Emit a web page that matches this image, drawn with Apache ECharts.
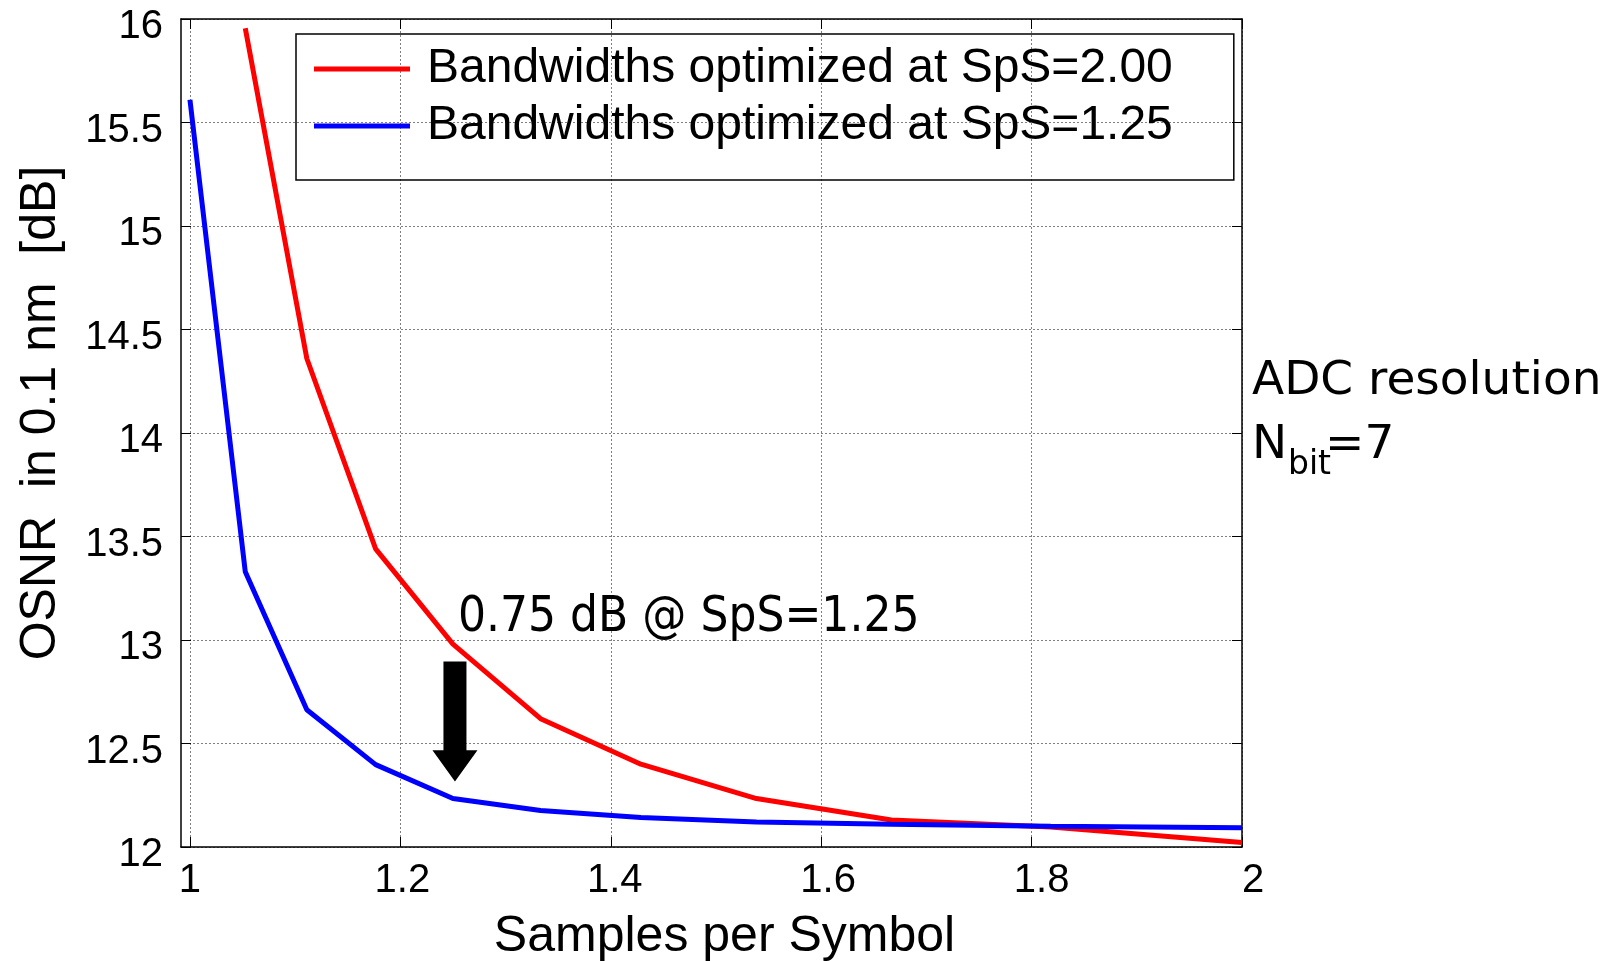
<!DOCTYPE html>
<html><head><meta charset="utf-8">
<script src="https://cdn.jsdelivr.net/npm/echarts@6/dist/echarts.min.js"></script>
<style>html,body{margin:0;padding:0;background:#fff}#c{width:1616px;height:961px}</style>
</head><body><div id="c"></div>
<script>
// Samples per symbol (x values)
const sps = [1.0000, 1.0526, 1.1111, 1.1765, 1.2500, 1.3333, 1.4286, 1.5385, 1.6667, 1.8182, 2.0000];
// OSNR [dB] — bandwidths optimized at SpS=2.00 (red)
const osnrOpt200 = [null, 15.955, 14.36, 13.44, 12.98, 12.62, 12.40, 12.234, 12.13, 12.097, 12.022];
// OSNR [dB] — bandwidths optimized at SpS=1.25 (blue)
const osnrOpt125 = [15.61, 13.33, 12.663, 12.398, 12.234, 12.176, 12.142, 12.121, 12.11, 12.10, 12.093];
const seriesNames = ['Bandwidths optimized at SpS=2.00', 'Bandwidths optimized at SpS=1.25'];
const xTicks = [1, 1.2, 1.4, 1.6, 1.8, 2];
const xLabelShift = [0, 2, 4, 7, 10, 11];
const arrowX = 1.25, arrowTop = 12.896, arrowHeadBase = 12.467, arrowTip = 12.317;

const sans = 'Liberation Sans, Arial, sans-serif';
const chart = echarts.init(document.getElementById('c'), null, {renderer: 'canvas'});
const toPairs = (ys) => sps.map((x, i) => [x, ys[i]]).filter(p => p[1] !== null);

const rich = {};
xTicks.forEach((t, i) => { rich['s' + i] = {fontFamily: sans, fontSize: 40, color: '#000', padding: [0, 0, 0, xLabelShift[i] * 2]}; });

const xMin = 0.9915, xMax = 2;
const option = {
  animation: false,
  backgroundColor: '#fff',
  grid: {left: 181, right: 374, top: 19, bottom: 114, show: false, containLabel: false, outerBoundsMode: 'none'},
  legend: {
    left: 296, top: 34, orient: 'vertical',
    icon: 'rect', itemWidth: 96, itemHeight: 5, itemGap: 9,
    padding: [11, 61, 30, 18],
    borderColor: '#000', borderWidth: 1.5,
    textStyle: {fontFamily: sans, fontSize: 48, color: '#000', padding: [0, 0, 0, 12]},
    data: seriesNames
  },
  xAxis: [{
    type: 'value', min: xMin, max: xMax, position: 'bottom',
    name: 'Samples per Symbol', nameLocation: 'middle', nameGap: 65,
    nameTextStyle: {fontFamily: sans, fontSize: 50, color: '#000', padding: [0, 0, 0, 26]},
    axisLine: {show: true, onZero: false, lineStyle: {color: '#000', width: 1.5}},
    axisTick: {show: true, inside: true, length: 10, customValues: xTicks, lineStyle: {color: '#000', width: 1}},
    axisLabel: {show: true, margin: 14, customValues: xTicks, fontFamily: sans, fontSize: 40, color: '#000',
      formatter: (v) => { const i = xTicks.findIndex(t => Math.abs(t - v) < 1e-6); return '{s' + (i < 0 ? 0 : i) + '|' + v + '}'; },
      rich: rich},
    splitLine: {show: true, lineStyle: {color: '#808080', width: 1, type: [2, 2]}}
  }, {
    type: 'value', min: xMin, max: xMax, position: 'top',
    axisLine: {show: true, onZero: false, lineStyle: {color: '#000', width: 1.5}},
    axisTick: {show: true, inside: true, length: 10, customValues: xTicks, lineStyle: {color: '#000', width: 1}},
    axisLabel: {show: false}, splitLine: {show: false}
  }],
  yAxis: [{
    type: 'value', min: 12, max: 16, interval: 0.5, position: 'left',
    name: 'OSNR  in 0.1 nm  [dB]', nameLocation: 'middle', nameRotate: 90, nameGap: 115,
    nameTextStyle: {fontFamily: sans, fontSize: 50, color: '#000', padding: [0, 0, 0, 40]},
    axisLine: {show: true, onZero: false, lineStyle: {color: '#000', width: 1.5}},
    axisTick: {show: true, inside: true, length: 10, lineStyle: {color: '#000', width: 1}},
    axisLabel: {margin: 18, color: '#000', formatter: (v) => '{y|' + v + '}',
      rich: {y: {fontFamily: sans, fontSize: 40, color: '#000', padding: [16, 0, 0, 0]}}},
    splitLine: {show: true, lineStyle: {color: '#808080', width: 1, type: [2, 2]}}
  }, {
    type: 'value', min: 12, max: 16, interval: 0.5, position: 'right',
    axisLine: {show: true, onZero: false, lineStyle: {color: '#000', width: 1.5}},
    axisTick: {show: true, inside: true, length: 10, lineStyle: {color: '#000', width: 1}},
    axisLabel: {show: false}, splitLine: {show: false}
  }],
  series: [{
    name: seriesNames[0], type: 'line', symbol: 'none', showSymbol: false,
    data: toPairs(osnrOpt200),
    lineStyle: {color: '#ff0000', width: 5}, itemStyle: {color: '#ff0000'}, z: 3
  }, {
    name: seriesNames[1], type: 'line', symbol: 'none', showSymbol: false,
    data: toPairs(osnrOpt125),
    lineStyle: {color: '#0000ff', width: 5}, itemStyle: {color: '#0000ff'}, z: 4
  }]
};
chart.setOption(option);

const pTop = chart.convertToPixel({gridIndex: 0}, [arrowX, arrowTop]);
const pBase = chart.convertToPixel({gridIndex: 0}, [arrowX, arrowHeadBase]);
const pTip = chart.convertToPixel({gridIndex: 0}, [arrowX, arrowTip]);
const cx = pTop[0] + 2, sw = 11.5, hw = 22.5;

chart.setOption({
  graphic: [
    {type: 'polygon', z: 10, shape: {points: [
      [cx - sw, pTop[1]], [cx + sw, pTop[1]], [cx + sw, pBase[1]], [cx + hw, pBase[1]],
      [cx, pTip[1]], [cx - hw, pBase[1]], [cx - sw, pBase[1]]]}, style: {fill: '#000'}},
    {type: 'text', z: 10, left: 458, top: 594, style: {text: '0.75 dB @ SpS=1.25', fontFamily: 'DejaVu Sans Condensed, DejaVu Sans', fontSize: 49, fill: '#000'}},
    {type: 'text', z: 10, left: 1252, top: 358, style: {text: 'ADC resolution', fontFamily: 'DejaVu Sans', fontSize: 47, fill: '#000'}},
    {type: 'text', z: 10, left: 1252, top: 422, style: {text: 'N', fontFamily: 'DejaVu Sans', fontSize: 47, fill: '#000'}},
    {type: 'text', z: 10, left: 1288, top: 449, style: {text: 'bit', fontFamily: 'DejaVu Sans', fontSize: 33, fill: '#000'}},
    {type: 'text', z: 10, left: 1325, top: 422, style: {text: '=7', fontFamily: 'DejaVu Sans', fontSize: 47, fill: '#000'}}
  ]
});
</script></body></html>
